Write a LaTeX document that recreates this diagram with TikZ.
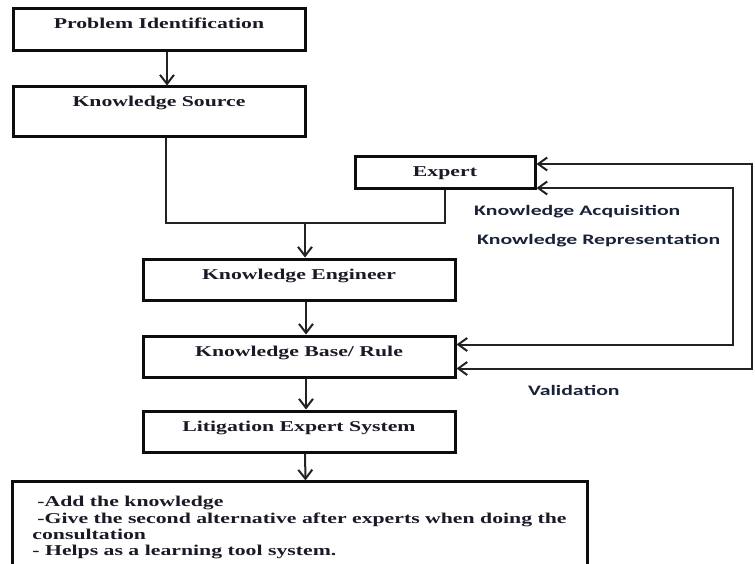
\documentclass[tikz,border=0pt]{standalone}
\usepackage{fontspec}
\setmainfont{Liberation Serif}[FakeStretch=1.45]
\newfontfamily\labelfont{Carlito}[FakeStretch=1.5]
\usetikzlibrary{arrows.meta,calc}
\definecolor{flowborder}{HTML}{0D0D0D}
\definecolor{flowtext}{HTML}{1A1A26}
\definecolor{flowline}{HTML}{222222}
\definecolor{flowlabel}{HTML}{1A2238}
\tikzset{
  flow frame/.style={
    rectangle, draw=flowborder, fill=white, text=flowtext,
    line width=3pt,
    inner xsep=6pt, inner ysep=9pt,
    font=\fontsize{15}{16.3}\selectfont\bfseries
  },
  flow box/.style={flow frame, text height=11pt, align=center},
  notes box/.style={flow frame, align=left, inner xsep=18pt},
  flow line/.style={draw=flowline, line width=2pt},
  flow arrow/.style={
    flow line, -{Straight Barb[length=9pt,width=14pt]}
  },
  flow twoway/.style={
    flow line, {Straight Barb[length=9pt,width=13pt]}-{Straight Barb[length=9pt,width=13pt]}
  },
  flow label/.style={
    text=flowlabel, font=\labelfont\fontsize{14.5}{17}\selectfont\bfseries,
    anchor=base west, inner sep=0pt
  }
}
\begin{document}
\begin{tikzpicture}[x=1pt,y=-1pt]
  \useasboundingbox (0,0) rectangle (755,564);

  \node[flow box,minimum width=292pt,minimum height=42pt,text depth=13pt] (probid) at (159,30) {Problem Identification};
  \node[flow box,minimum width=292pt,minimum height=50pt,text depth=21pt] (ksource) at (159,112) {Knowledge Source};
  \node[flow box,minimum width=180pt,minimum height=32pt,text depth=3pt] (expert) at (445,173) {Expert};
  \node[flow box,minimum width=312pt,minimum height=41pt,text depth=12pt] (kengineer) at (299,279.5) {Knowledge Engineer};
  \node[flow box,minimum width=312pt,minimum height=41pt,text depth=12pt] (kbase) at (299,356.5) {Knowledge Base/ Rule};
  \node[flow box,minimum width=312pt,minimum height=41pt,text depth=12pt] (litsystem) at (299,431.5) {Litigation Expert System};
  \node[notes box,minimum width=575pt,minimum height=74pt] (notes) at (299.5,525)
    {\rule{0pt}{16pt}\hspace{5pt}-Add the knowledge\\
     \hspace{5pt}-Give the second alternative after experts when doing the\\
     consultation\\
     - Helps as a learning tool system.};

  \coordinate (merge) at (305,223);
  \coordinate (outerrail) at (752,300);
  \coordinate (innerrail) at (733,300);

  \draw[flow arrow] ([xshift=8pt]probid.south) -- ([xshift=8pt]ksource.north);

  % Source and expert feed the engineer through one joint.
  \draw[flow line] ([xshift=7pt]ksource.south) |- (merge) -| (expert.south);
  \draw[flow arrow] (merge) -- (merge |- kengineer.north);

  \draw[flow arrow] ([xshift=7pt]kengineer.south) -- ([xshift=7pt]kbase.north);
  \draw[flow arrow] ([xshift=7pt]kbase.south) -- ([xshift=7pt]litsystem.north);
  \draw[flow arrow] ([xshift=6pt]litsystem.south) -- ([xshift=6pt]notes.north);

  % Feedback loops between expert and knowledge base.
  \draw[flow twoway] ([yshift=9pt]expert.east) -| (outerrail) |- ([yshift=-12pt]kbase.east);
  \draw[flow twoway] ([yshift=-15pt]expert.east) -| (innerrail) |- ([yshift=12pt]kbase.east);

  \node[flow label] (acqlabel) at (474,216) {Knowledge Acquisition};
  \node[flow label] (replabel) at (477,244) {Knowledge Representation};
  \node[flow label] (vallabel) at (528,395) {Validation};
\end{tikzpicture}
\end{document}
